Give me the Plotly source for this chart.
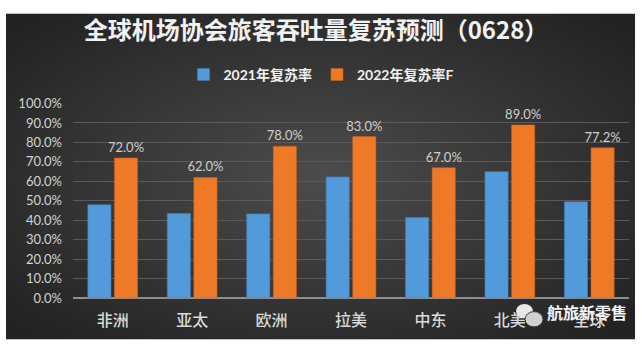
import base64
import plotly.graph_objects as go

categories = ["非洲", "亚太", "欧洲", "拉美", "中东", "北美", "全球"]
rate_2021 = [48.0, 43.5, 43.3, 62.3, 41.5, 65.0, 49.5]
rate_2022 = [72.0, 62.0, 78.0, 83.0, 67.0, 89.0, 77.2]
series_names = ["2021年复苏率", "2022年复苏率F"]
y_ticks = [0, 10, 20, 30, 40, 50, 60, 70, 80, 90, 100]

W, H = 642, 353
FONT = "Lato, 'Noto Sans CJK SC', sans-serif"
CJK = "'Noto Sans CJK SC', sans-serif"

svg = f'''<svg xmlns="http://www.w3.org/2000/svg" width="{W}" height="{H}">
<defs><radialGradient id="g" cx="50%" cy="50%" r="65%">
<stop offset="0%" stop-color="#4c4c4c"/><stop offset="100%" stop-color="#232323"/>
</radialGradient></defs>
<rect x="6" y="6" width="629" height="341" fill="url(#g)"/></svg>'''
bg_src = "data:image/svg+xml;base64," + base64.b64encode(svg.encode()).decode()

fig = go.Figure()
fig.add_trace(go.Bar(
    x=categories, y=rate_2021, name=series_names[0],
    marker=dict(color="#529ad9", line=dict(color="#3f7fb8", width=0.6)),
))
fig.add_trace(go.Bar(
    x=categories, y=rate_2022, name=series_names[1],
    marker=dict(color="#ee7a27", line=dict(color="#c9621c", width=0.6)),
    text=[f"{v:.1f}%" for v in rate_2022], textposition="outside",
    constraintext="none",
    textfont=dict(color="#cfcfcf", size=13, family=FONT), cliponaxis=False,
))

fig.update_layout(
    width=W, height=H,
    margin=dict(l=0, r=0, t=0, b=0),
    paper_bgcolor="white", plot_bgcolor="rgba(0,0,0,0)",
    barmode="group", bargap=0.33, bargroupgap=0.13,
    images=[dict(source=bg_src, xref="paper", yref="paper", x=0, y=1,
                 sizex=1, sizey=1, xanchor="left", yanchor="top",
                 sizing="stretch", layer="below")],
    title=dict(text="全球机场协会旅客吞吐量复苏预测（0628）",
               x=316 / W, xanchor="center", y=1 - 31 / H, yanchor="middle",
               font=dict(family=CJK, size=24, color="#f2f2f2", weight=600)),
    legend=dict(orientation="h", x=0.5, xanchor="center", y=1 - 70 / H, yanchor="middle",
                font=dict(family=FONT, size=14, color="#f0f0f0", weight="bold"),
                bgcolor="rgba(0,0,0,0)", itemwidth=30, traceorder="normal"),
    xaxis=dict(domain=[73 / W, 629 / W], showgrid=False, showline=False, ticks="",
               tickfont=dict(family=CJK, size=16, color="#d9d9d9", weight=500),
               ticklabelstandoff=11),
    yaxis=dict(domain=[49 / H, 253 / H], range=[0, 100], tickvals=y_ticks,
               ticktext=[f"{v:.1f}%" for v in y_ticks],
               showgrid=True, gridcolor="#5a5a5a", gridwidth=1,
               zeroline=True, zerolinecolor="#8e8e8e", zerolinewidth=1.5,
               ticks="", tickfont=dict(family=FONT, size=13, color="#d4d4d4"),
               ticklabelstandoff=10),
    showlegend=True,
)

fig.add_annotation(text="航旅新零售", xref="paper", yref="paper",
                   x=587 / W, y=1 - 318 / H, xanchor="center", yanchor="middle",
                   showarrow=False,
                   font=dict(family=CJK, size=16, color="#f4f4f4", weight=600))
# watermark icon (two speech bubbles)
fig.add_shape(type="circle", xref="paper", yref="paper",
              x0=516 / W, x1=533 / W, y0=1 - 325 / H, y1=1 - 310 / H,
              fillcolor="#e8e8e8", line=dict(width=0))
fig.add_shape(type="circle", xref="paper", yref="paper",
              x0=525 / W, x1=543 / W, y0=1 - 334 / H, y1=1 - 318 / H,
              fillcolor="#d0d0d0", line=dict(color="#3a3a3a", width=1))

fig.write_html("out.html")
